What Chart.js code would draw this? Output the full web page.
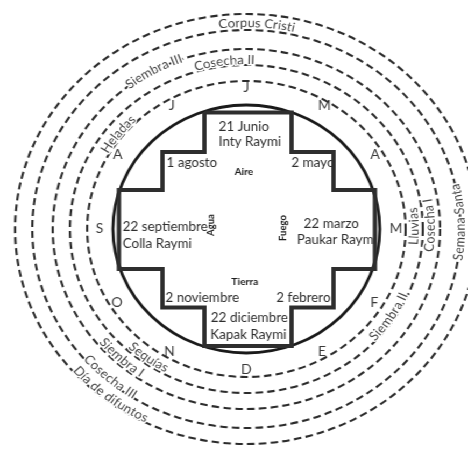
<!DOCTYPE html>
<html><head><meta charset="utf-8">
<script src="https://cdn.jsdelivr.net/npm/chart.js@4"></script>
<style>
html,body{margin:0;padding:0;background:#fff;overflow:hidden;width:468px;height:454px;}
#wrap{position:absolute;left:0;top:0;width:435px;height:454px;transform:scaleX(1.0759);transform-origin:0 0;}
#wrap canvas{position:absolute;left:0;top:0;}
</style></head><body>
<div id="wrap"><canvas id="rings" width="435" height="454"></canvas><canvas id="cross" width="435" height="454"></canvas></div>
<script>
// ---- DATA ----
// month initials, clockwise from the top (junio, mayo, abril, marzo, ... julio)
const monthLetters = ['J','M','A','M','F','E','D','N','O','S','A','J'];
// dashed ring radii and the solid circle (radial units)
const ringRadii = [148, 164, 180, 199, 215];
const circleRadius = 124;
// labels written along the rings
const ringLabels = ['Corpus Cristi','Cosecha II','Siembra III','Heladas','Lluvias','Cosecha I','Semana Santa','Siembra II','Sequías','Siembra I','Cosecha III','Día de difuntos'];
const ringLabelRadius = [206, 169, 181, 153, 156, 171, 199, 160, 158, 174, 196, 211];
const ringLabelAngle = [2.7, -7, -28.6, -51.5, 89, 88.7, 88, 123.5, 215.3, 222, 220.5, 217.3];
const ringLabelFlow = ['cw','cw','cw','cw','ccw','ccw','ccw','ccw','ccw','ccw','ccw','ccw'];
// stepped cross (chakana) outline vertices
const crossX = [-39, 42, 42, 81, 81, 119.5, 119.5, 81, 81, 42, 42, -39, -39, -78, -78, -118.5, -118.5, -78, -78, -39, -39];
const crossY = [116.5, 116.5, 77, 77, 39, 39, -40, -40, -78.5, -78.5, -117, -117, -78.5, -78.5, -40, -40, 39, 39, 77, 77, 116.5];
// texts inside the cross
const innerLabels = ['21 Junio','Inty Raymi','1 agosto','Aire','2 mayo','22 septiembre','Colla Raymi','Agua','Fuego','22 marzo','Paukar Raymi','Tierra','2 noviembre','2 febrero','22 diciembre','Kapak Raymi'];
const innerX = [-2.3, 3.3, -50.7, -2.3, 61.9, -114.9, -114.9, -33, 34, 79, 47, -1.4, -41, 53, 2.8, 1.9];
const innerY = [102, 87, 66, 57, 66, 2, -15, 4, 1, 5, -11, -53, -69, -69, -89, -106];
const innerAlign = ['center','center','center','center','center','left','left','center','center','center','left','center','center','center','center','center'];
const innerBold = [false,false,false,true,false,false,false,true,true,false,false,true,false,false,false,false];
const innerRotate = [0,0,0,0,0,0,0,-90,-90,0,0,0,0,0,0,0];

const FONT = 'Lato, "Open Sans", sans-serif';

const ringTextPlugin = {
  id: 'ringText',
  afterDraw(chart) {
    const s = chart.scales.r;
    const ctx = chart.ctx;
    ctx.save();
    ctx.font = '12.5px ' + FONT;
    ctx.fillStyle = '#444';
    ctx.strokeStyle = '#fff';
    ctx.lineWidth = 3;
    ctx.lineJoin = 'round';
    ctx.textAlign = 'center';
    ctx.textBaseline = 'middle';
    ringLabels.forEach((text, k) => {
      const d = s.getDistanceFromCenterForValue(ringLabelRadius[k]);
      const theta = ringLabelAngle[k] * Math.PI / 180;
      const flow = ringLabelFlow[k];
      const dir = flow === 'cw' ? 1 : -1;
      const chars = [...text];
      const widths = chars.map(ch => ctx.measureText(ch).width);
      const total = widths.reduce((a, b) => a + b, 0);
      let a = theta - dir * (total / d) / 2;
      chars.forEach((ch, i) => {
        const w = widths[i];
        const ac = a + dir * (w / 2) / d;
        const p = s.getPointPosition(0, d, ac);
        ctx.save();
        ctx.translate(p.x, p.y);
        ctx.rotate(flow === 'cw' ? ac : ac + Math.PI);
        ctx.strokeText(ch, 0, 0);
        ctx.fillText(ch, 0, 0);
        ctx.restore();
        a += dir * w / d;
      });
    });
    ctx.restore();
  }
};

new Chart(document.getElementById('rings'), {
  type: 'radar',
  data: { labels: monthLetters, datasets: [] },
  options: {
    responsive: false,
    animation: false,
    layout: { padding: { left: 23, top: 4, right: 0, bottom: 0 } },
    plugins: { legend: { display: false }, tooltip: { enabled: false } },
    scales: {
      r: {
        min: 0, max: 206,
        afterBuildTicks: (scale) => {
          scale.ticks = [0].concat(ringRadii, [circleRadius]).map(v => ({ value: v }));
        },
        ticks: { display: false },
        angleLines: { display: false },
        grid: {
          circular: true,
          color: (c) => (c.tick && c.tick.value === circleRadius) ? '#1a1a1a' : '#2c2c2c',
          lineWidth: (c) => (c.tick && c.tick.value === circleRadius) ? 2.8 : 2.1
        },
        border: {
          dash: (c) => (c.tick && c.tick.value === circleRadius) ? [] : [7, 4]
        },
        pointLabels: {
          display: true,
          padding: -73,
          color: '#3a3a3a',
          font: { family: FONT, size: 13 }
        }
      }
    }
  },
  plugins: [ringTextPlugin]
});

const innerTextPlugin = {
  id: 'innerText',
  afterDatasetsDraw(chart) {
    const ctx = chart.ctx;
    const xs = chart.scales.x, ys = chart.scales.y;
    ctx.save();
    ctx.textBaseline = 'middle';
    innerLabels.forEach((t, i) => {
      const x = xs.getPixelForValue(innerX[i]);
      const y = ys.getPixelForValue(innerY[i]);
      ctx.save();
      ctx.translate(x, y);
      ctx.rotate(innerRotate[i] * Math.PI / 180);
      ctx.textAlign = innerAlign[i];
      ctx.font = innerBold[i] ? 'bold 9.5px ' + FONT : '12.5px ' + FONT;
      ctx.fillStyle = innerBold[i] ? '#1e1e1e' : '#2e2e2e';
      ctx.fillText(t, 0, 0);
      ctx.restore();
    });
    ctx.restore();
  }
};

const crossPts = crossX.map((x, i) => ({ x: x, y: crossY[i] }));
new Chart(document.getElementById('cross'), {
  type: 'scatter',
  data: {
    datasets: [
      { data: crossPts, showLine: true, borderColor: '#2e2e2e', borderWidth: 4, pointRadius: 0, borderJoinStyle: 'miter', clip: false },
      { data: crossPts, showLine: true, borderColor: '#a8a8a8', borderWidth: 1, pointRadius: 0, borderJoinStyle: 'miter', clip: false }
    ]
  },
  options: {
    responsive: false,
    animation: false,
    layout: { padding: { left: 23, top: 4, right: 0, bottom: 0 } },
    plugins: { legend: { display: false }, tooltip: { enabled: false } },
    scales: {
      x: { type: 'linear', display: false, min: -206, max: 206 },
      y: { type: 'linear', display: false, min: -225, max: 225 }
    }
  },
  plugins: [innerTextPlugin]
});
</script>
</body></html>
